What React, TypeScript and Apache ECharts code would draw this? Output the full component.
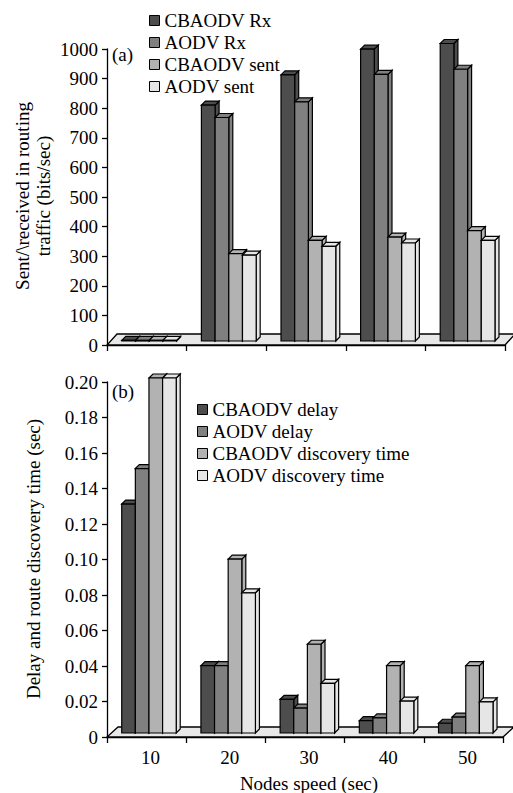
import React, { useEffect, useRef } from "react";
import * as echarts from "echarts";

const categories = ["10", "20", "30", "40", "50"];

const trafficNames = ["CBAODV Rx", "AODV Rx", "CBAODV sent", "AODV sent"];
const cbaodvRx = [2, 797, 899, 986, 1005];
const aodvRx = [2, 755, 808, 901, 918];
const cbaodvSent = [2, 295, 340, 351, 373];
const aodvSent = [2, 290, 320, 331, 340];

const delayNames = ["CBAODV delay", "AODV delay", "CBAODV discovery time", "AODV discovery time"];
const cbaodvDelay = [0.129, 0.038, 0.019, 0.007, 0.0055];
const aodvDelay = [0.149, 0.038, 0.014, 0.0085, 0.009];
const cbaodvDiscovery = [0.2, 0.098, 0.05, 0.038, 0.038];
const aodvDiscovery = [0.2, 0.079, 0.028, 0.018, 0.0175];

const trafficTicks = [0, 1000, 100];
const delayTicks = [0, 0.2, 0.02];

const COLORS = ["#4d4d4d", "#808080", "#b2b2b2", "#e6e6e6"];
const FONT = "Liberation Serif";

function barRender(i: number, color: string) {
  return (params: any, api: any) => {
    const cat = api.value(0);
    const val = api.value(1);
    const base = api.coord([cat, 0]);
    const top = api.coord([cat, val]);
    const band = api.size([1, 0])[0];
    const w = band * 0.172;
    const x = base[0] - 2 * w + band * 0.03 + i * w;
    const lift = 4, dx = 4, dy = 4;
    const y0 = base[1] - lift;
    const y1 = top[1] - lift;
    const style = { fill: color, stroke: "#000", lineWidth: 1.2 };
    return {
      type: "group",
      children: [
        { type: "polygon", shape: { points: [[x + w, y1], [x + w + dx, y1 - dy], [x + w + dx, y0 - dy], [x + w, y0]] }, style },
        { type: "polygon", shape: { points: [[x, y1], [x + dx, y1 - dy], [x + w + dx, y1 - dy], [x + w, y1]] }, style },
        { type: "rect", shape: { x, y: y1, width: w, height: Math.max(0, y0 - y1) }, style },
      ],
    };
  };
}

function floorRender(dx: number, dy: number) {
  return (params: any) => {
    const cs = params.coordSys;
    const yb = cs.y + cs.height;
    return {
      type: "polygon",
      shape: {
        points: [[cs.x, yb], [cs.x + cs.width, yb], [cs.x + cs.width + dx, yb - dy], [cs.x + dx, yb - dy]],
      },
      style: { fill: "#e8e8e8", stroke: "#000", lineWidth: 1.3 },
    };
  };
}

export default function App() {
  const ref = useRef<HTMLDivElement>(null);
  useEffect(() => {
    document.body.style.margin = "0";
    const chart = echarts.init(ref.current!, null, { renderer: "svg" });
    const axisLine = { show: true, lineStyle: { color: "#000", width: 1.3 } };
    const labelStyle = { color: "#000", fontSize: 19, fontFamily: FONT };
    const trafficData = [cbaodvRx, aodvRx, cbaodvSent, aodvSent];
    const delayData = [cbaodvDelay, aodvDelay, cbaodvDiscovery, aodvDiscovery];
    const series: any[] = [
      { type: "custom", name: "floorA", xAxisIndex: 0, yAxisIndex: 0, data: [[0, 0]], renderItem: floorRender(10, 11), z: 1, silent: true },
      { type: "custom", name: "floorB", xAxisIndex: 1, yAxisIndex: 1, data: [[0, 0]], renderItem: floorRender(11, 10), z: 1, silent: true },
    ];
    trafficNames.forEach((n, i) => {
      series.push({
        type: "custom", name: n, xAxisIndex: 0, yAxisIndex: 0, z: 2 + i,
        itemStyle: { color: COLORS[i] },
        encode: { x: 0, y: 1 },
        data: trafficData[i].map((v, k) => [k, v]),
        renderItem: barRender(i, COLORS[i]),
      });
    });
    delayNames.forEach((n, i) => {
      series.push({
        type: "custom", name: n, xAxisIndex: 1, yAxisIndex: 1, z: 2 + i,
        itemStyle: { color: COLORS[i] },
        encode: { x: 0, y: 1 },
        data: delayData[i].map((v, k) => [k, v]),
        renderItem: barRender(i, COLORS[i]),
      });
    });
    const legendCommon = {
      orient: "vertical",
      icon: "rect",
      itemWidth: 10,
      itemHeight: 10,
      itemGap: 3,
      padding: 0,
      itemStyle: { borderColor: "#000", borderWidth: 1 },
      textStyle: { color: "#000", fontSize: 19, fontFamily: FONT, lineHeight: 19 },
    };
    chart.setOption({
      animation: false,
      grid: [
        { left: 107, right: 8, top: 49, bottom: 793 - 345 },
        { left: 107, right: 10, top: 382, bottom: 793 - 737 },
      ],
      legend: [
        { ...legendCommon, left: 149, top: 11, data: trafficNames },
        { ...legendCommon, left: 197, top: 400, data: delayNames },
      ],
      xAxis: [
        {
          type: "category", gridIndex: 0, data: categories, boundaryGap: true,
          axisLine, axisTick: { show: true, length: 6, interval: 0, lineStyle: { color: "#000", width: 1.3 } },
          axisLabel: { show: false },
        },
        {
          type: "category", gridIndex: 1, data: categories, boundaryGap: true,
          axisLine, axisTick: { show: true, length: 6, interval: 0, lineStyle: { color: "#000", width: 1.3 } },
          axisLabel: { ...labelStyle, margin: 11, padding: [0, 0, 0, 8] },
        },
      ],
      yAxis: [
        {
          type: "value", gridIndex: 0, min: trafficTicks[0], max: trafficTicks[1], interval: trafficTicks[2],
          axisLine, axisTick: { show: true, length: 5, lineStyle: { color: "#000", width: 1.3 } },
          splitLine: { show: false },
          axisLabel: { ...labelStyle, margin: 9, formatter: (v: number) => String(Math.round(v)) },
        },
        {
          type: "value", gridIndex: 1, min: delayTicks[0], max: delayTicks[1], interval: delayTicks[2],
          axisLine, axisTick: { show: true, length: 5, lineStyle: { color: "#000", width: 1.3 } },
          splitLine: { show: false },
          axisLabel: { ...labelStyle, margin: 9, formatter: (v: number) => (v === 0 ? "0" : v.toFixed(2)) },
        },
      ],
      graphic: [
        { type: "text", left: 112, top: 45, style: { text: "(a)", fill: "#000", font: `19px "${FONT}"` } },
        { type: "text", left: 112, top: 382, style: { text: "(b)", fill: "#000", font: `19px "${FONT}"` } },
        {
          type: "text", x: 33, y: 196, rotation: Math.PI / 2,
          style: { text: "Sent/\\received in routing\ntraffic (bits/sec)", fill: "#000", font: `19px "${FONT}"`, align: "center", verticalAlign: "middle", lineHeight: 21 },
        },
        {
          type: "text", x: 33, y: 559, rotation: Math.PI / 2,
          style: { text: "Delay and route discovery time (sec)", fill: "#000", font: `19px "${FONT}"`, align: "center", verticalAlign: "middle" },
        },
        {
          type: "text", x: 309, y: 783,
          style: { text: "Nodes speed (sec)", fill: "#000", font: `19px "${FONT}"`, align: "center", verticalAlign: "middle" },
        },
      ],
      series,
    });
    return () => chart.dispose();
  }, []);
  return <div ref={ref} style={{ position: "absolute", left: 0, top: 0, width: 513, height: 793 }} />;
}
